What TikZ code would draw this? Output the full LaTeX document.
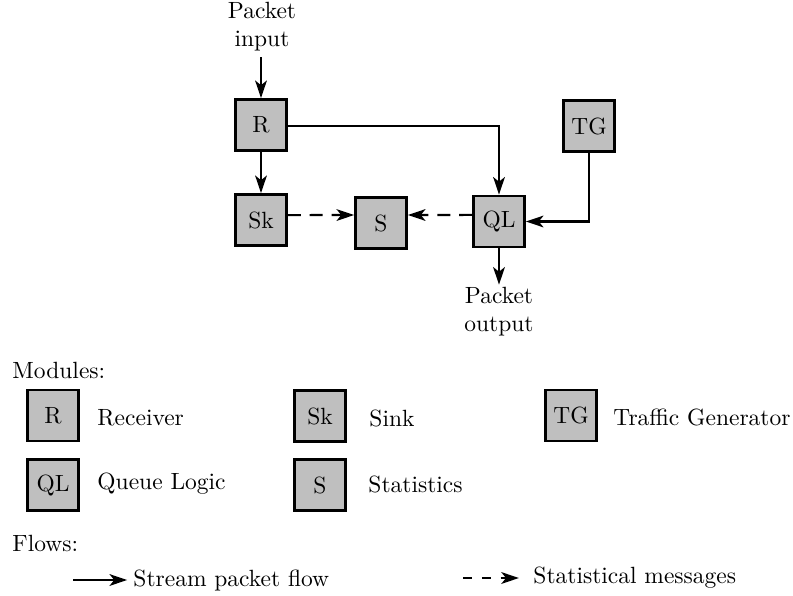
\documentclass[tikz,border=0pt]{standalone}
\usetikzlibrary{arrows.meta}
\begin{document}
\begin{tikzpicture}[x=0.426pt,y=-0.426pt,
  module/.style={draw,line width=1.1pt,fill=gray!50,minimum size=21.8pt,inner sep=0pt},
  flow/.style={line width=0.9pt,-{Stealth[length=7.5pt,width=5pt,inset=2pt]}},
  statflow/.style={flow,dash pattern=on 5.5pt off 3.8pt},
  lbl/.style={align=center,inner sep=1pt},
  txt/.style={anchor=west,inner sep=0pt}]
\useasboundingbox (0,0) rectangle (793,595);

% main modules
\node[module] (R)  at (261,125) {R};
\node[module] (Sk) at (261,220) {Sk};
\node[module] (S)  at (381,223) {S};
\node[module] (QL) at (499,221.5) {QL};
\node[module] (TG) at (589,126) {TG};

% packet input and output
\node[lbl] (in)  at (262,27)  {Packet\\input};
\node[lbl] (out) at (499,312) {Packet\\output};
\coordinate (inend) at (261,57);

% stream packet flows
\draw[flow] (inend) -- (R.north);
\draw[flow] (R) -- (Sk);
\draw[flow] ([yshift=-0.6pt]R.east) -| (QL.north);
\draw[flow] (TG.south) |- (QL.east);
\draw[flow] (QL.south) -- (out.north);

% statistical messages
\draw[statflow] ([yshift=2.1pt]Sk.east) -- ([yshift=3.4pt]S.west);
\draw[statflow] ([yshift=2.8pt]QL.west) -- ([yshift=3.4pt]S.east);

% legend: modules
\node[txt] (modh) at (12,370) {Modules:};
\node[module] (lR)  at (53,415.5)  {R};
\node[txt]    (tR)  at (97,418)  {Receiver};
\node[module] (lSk) at (320,416) {Sk};
\node[txt]    (tSk) at (369,418) {Sink};
\node[module] (lTG) at (571,415.5) {TG};
\node[txt]    (tTG) at (613,417) {Traffic Generator};
\node[module] (lQL) at (53,485)  {QL};
\node[txt]    (tQL) at (97,484)  {Queue Logic};
\node[module] (lS)  at (320,485) {S};
\node[txt]    (tS)  at (368,484) {Statistics};

% legend: flows
\node[txt] (flh) at (12,543) {Flows:};
\coordinate (a1) at (73,580);
\node[txt] (tflow) at (133,580) {Stream packet flow};
\draw[flow] (a1) -- ([xshift=-2.5pt]tflow.west);
\coordinate (a2) at (463,578);
\node[txt] (tstat) at (533,578) {Statistical messages};
\draw[statflow,dash pattern=on 4pt off 4pt] (a2) -- ([xshift=-6pt]tstat.west);
\end{tikzpicture}
\end{document}
